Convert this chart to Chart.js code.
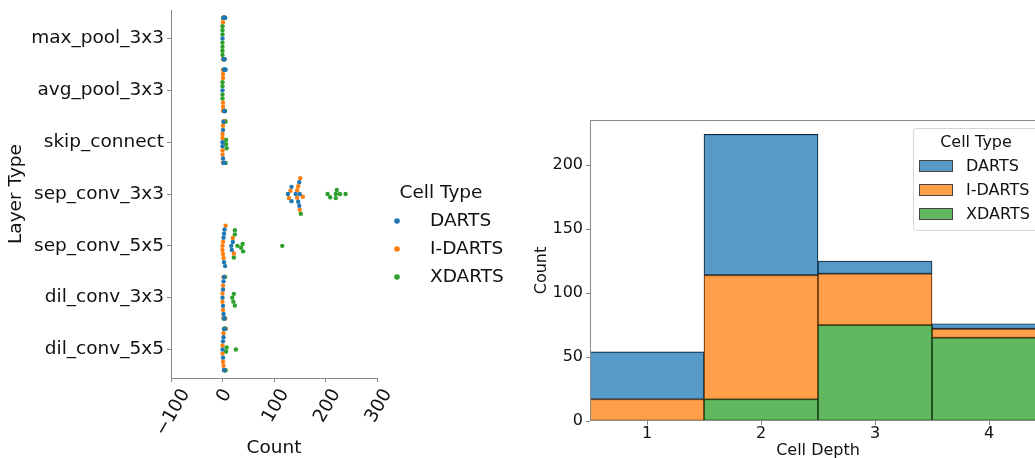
<!DOCTYPE html>
<html>
<head>
<meta charset="utf-8">
<script src="https://cdn.jsdelivr.net/npm/chart.js@4.4.1/dist/chart.umd.min.js"></script>
<style>
  html, body { margin: 0; padding: 0; background: #fff; overflow: hidden; width: 1035px; height: 458px; }
  #left { position: absolute; left: 0; top: 0; }
  #right { position: absolute; left: 520px; top: 0; }
</style>
</head>
<body>
<canvas id="left" width="520" height="458"></canvas>
<canvas id="right" width="540" height="458"></canvas>
<script>
// categories
const layers = ['max_pool_3x3', 'avg_pool_3x3', 'skip_connect', 'sep_conv_3x3', 'sep_conv_5x5', 'dil_conv_3x3', 'dil_conv_5x5'];
const cellTypes = ['DARTS', 'I-DARTS', 'XDARTS'];
const cellColors = ['#1f77b4', '#ff7f0e', '#2ca02c'];

// swarm values: one row per layer type, one value per cell
const dartsCounts = [
  [0, 2, 2, 3, 3, 4, 4, 5],
  [0, 3, 3, 4, 4, 5, 5, 6],
  [0, 0, 1, 1, 2, 2, 3, 4],
  [127, 134, 134, 142, 147, 149, 149, 150],
  [2, 3, 3, 4, 5, 17, 18, 20],
  [0, 1, 1, 2, 2, 3, 3, 4],
  [0, 1, 1, 2, 3, 3, 4, 5]
];
const idartsCounts = [
  [1, 1, 2, 2, 3, 3, 4, 5],
  [1, 1, 1, 1, 1, 1, 2, 3],
  [0, 0, 0, 0, 1, 1, 2, 3],
  [129, 132, 145, 145, 147, 150, 151, 156],
  [0, 0, 1, 1, 2, 6, 20, 22],
  [0, 0, 1, 1, 2, 2, 3, 5],
  [0, 0, 1, 2, 2, 3, 4, 6]
];
const xdartsCounts = [
  [0, 0, 0, 0, 0, 0, 0, 1],
  [0, 0, 0, 0, 2, 3, 4, 5],
  [4, 5, 5, 6, 6, 7, 7, 8],
  [152, 204, 209, 220, 220, 222, 228, 239],
  [22, 24, 24, 29, 36, 39, 40, 116],
  [2, 4, 5, 19, 21, 22, 24, 5],
  [3, 4, 5, 6, 6, 7, 8, 26]
];

// histogram by cell depth
const depthLabels = ['1', '2', '3', '4'];
const dartsDepth = [37, 110, 10, 4];
const idartsDepth = [17, 97, 40, 7];
const xdartsDepth = [0, 17, 75, 65];

const FONT = 'DejaVu Sans';
const INK = '#111';
const SPINE = '#8a8a8a';
Chart.defaults.font.family = FONT;
Chart.defaults.color = INK;

function fade(hex, a) {
  const n = parseInt(hex.slice(1), 16);
  return 'rgba(' + (n >> 16) + ',' + ((n >> 8) & 255) + ',' + (n & 255) + ',' + a + ')';
}

// seaborn-like beeswarm: offsets in pixels, clamped to the gutter
function swarm(chart) {
  const xs = chart.scales.x, ys = chart.scales.y;
  const unit = Math.abs(ys.getPixelForValue(1) - ys.getPixelForValue(0));
  const d = 4.1;
  const half = 0.4 * unit;
  layers.forEach((name, ci) => {
    const pts = [];
    chart.data.datasets.forEach(ds => ds.data.forEach(p => { if (p.cat === ci) pts.push(p); }));
    pts.sort((a, b) => a.x - b.x);
    const placed = [];
    pts.forEach(p => {
      const px = xs.getPixelForValue(p.x);
      const near = placed.filter(q => Math.abs(q.px - px) < d);
      const cands = [0];
      near.forEach(q => {
        const dy = Math.sqrt(d * d - (q.px - px) * (q.px - px));
        cands.push(q.off + dy, q.off - dy);
      });
      cands.sort((a, b) => Math.abs(a) - Math.abs(b));
      const off = cands.find(o => near.every(q => (q.px - px) ** 2 + (q.off - o) ** 2 >= d * d - 1e-6));
      placed.push({ px: px, off: off });
      p.y = ci + Math.max(-half, Math.min(half, off)) / unit;
    });
  });
}

const rotatedTicks = {
  id: 'rotatedTicks',
  afterDraw(chart) {
    const { ctx, scales: { x } } = chart;
    const a = Math.PI / 3, size = 18.5;
    ctx.save();
    ctx.font = size + 'px "' + FONT + '"';
    ctx.fillStyle = INK;
    ctx.textAlign = 'center';
    ctx.textBaseline = 'middle';
    x.ticks.forEach(t => {
      const label = t.value < 0 ? '\u2212' + Math.abs(t.value) : String(t.value);
      const w = ctx.measureText(label).width;
      const H = w * Math.sin(a) + size * Math.cos(a);
      ctx.save();
      ctx.translate(x.getPixelForValue(t.value) + 2, x.top + 8 + H / 2);
      ctx.rotate(-a);
      ctx.fillText(label, 0, 0);
      ctx.restore();
    });
    ctx.restore();
  }
};

const swarmLegend = {
  id: 'swarmLegend',
  afterDraw(chart) {
    const { ctx, chartArea: ca } = chart;
    ctx.save();
    ctx.font = '18.5px "' + FONT + '"';
    ctx.fillStyle = INK;
    ctx.textBaseline = 'middle';
    ctx.textAlign = 'center';
    ctx.fillText('Cell Type', ca.right + 64, 193);
    ctx.textAlign = 'left';
    cellTypes.forEach((name, k) => {
      const y = 221 + k * 28;
      ctx.fillStyle = cellColors[k];
      ctx.beginPath();
      ctx.arc(ca.right + 20, y, 2.8, 0, Math.PI * 2);
      ctx.fill();
      ctx.fillStyle = INK;
      ctx.fillText(name, ca.right + 53, y);
    });
    ctx.restore();
  }
};

const leftChart = new Chart(document.getElementById('left'), {
  type: 'scatter',
  data: {
    datasets: [dartsCounts, idartsCounts, xdartsCounts].map((rows, k) => ({
      label: cellTypes[k],
      data: rows.flatMap((vals, ci) => vals.map(v => ({ x: v, y: ci, cat: ci }))),
      backgroundColor: cellColors[k],
      borderWidth: 0,
      pointRadius: 2.2,
      pointHoverRadius: 2.2
    }))
  },
  options: {
    responsive: false,
    animation: false,
    events: [],
    layout: { padding: { top: 10, right: 143, left: 0, bottom: 0 } },
    plugins: { legend: { display: false }, tooltip: { enabled: false } },
    scales: {
      x: {
        type: 'linear', min: -100, max: 300,
        ticks: { stepSize: 100, display: false },
        grid: { drawOnChartArea: false, tickLength: 4, color: SPINE },
        border: { color: SPINE },
        title: { display: true, text: 'Count', font: { size: 18.5 }, color: INK, padding: { top: 0, bottom: -1 } },
        afterFit: s => { s.height = 80; s.paddingLeft = 0; s.paddingRight = 0; }
      },
      y: {
        type: 'linear', reverse: true, min: -0.55, max: 6.55,
        afterBuildTicks: s => { s.ticks = layers.map((n, i) => ({ value: i })); },
        ticks: { callback: v => layers[v], font: { size: 18.5 }, color: INK, padding: 3 },
        grid: { drawOnChartArea: false, tickLength: 4, color: SPINE },
        border: { color: SPINE },
        title: { display: true, text: 'Layer Type', font: { size: 18.5 }, color: INK, padding: { top: 5, bottom: 0 } },
        afterFit: s => { s.width = 171; s.paddingTop = 0; s.paddingBottom = 0; }
      }
    }
  },
  plugins: [rotatedTicks, swarmLegend]
});
swarm(leftChart);
leftChart.update('none');

const frame = {
  id: 'frame',
  afterDraw(chart) {
    const { ctx, chartArea: ca } = chart;
    ctx.save();
    ctx.strokeStyle = SPINE;
    ctx.lineWidth = 1;
    ctx.strokeRect(ca.left + 0.5, ca.top + 0.5, ca.right - ca.left - 1, ca.bottom - ca.top - 1);
    // legend, upper right
    const lx = ca.right - 133, ly = ca.top + 8, lw = 126, lh = 102;
    ctx.fillStyle = 'rgba(255,255,255,0.85)';
    ctx.strokeStyle = '#d6d6d6';
    ctx.beginPath();
    ctx.roundRect(lx + 0.5, ly + 0.5, lw, lh, 3);
    ctx.fill();
    ctx.stroke();
    ctx.font = '16px "' + FONT + '"';
    ctx.fillStyle = INK;
    ctx.textBaseline = 'middle';
    ctx.textAlign = 'center';
    ctx.fillText('Cell Type', lx + lw / 2, ly + 15);
    ctx.textAlign = 'left';
    cellTypes.forEach((name, k) => {
      const y = ly + 38 + k * 24;
      ctx.fillStyle = fade(cellColors[k], 0.75);
      ctx.fillRect(lx + 6, y - 6, 34, 12);
      ctx.strokeStyle = '#444';
      ctx.strokeRect(lx + 6.5, y - 5.5, 33, 11);
      ctx.fillStyle = INK;
      ctx.fillText(name, lx + 53, y + 1);
    });
    ctx.restore();
  }
};

new Chart(document.getElementById('right'), {
  type: 'bar',
  data: {
    labels: depthLabels,
    datasets: [
      { label: 'XDARTS', data: xdartsDepth, backgroundColor: fade(cellColors[2], 0.75) },
      { label: 'I-DARTS', data: idartsDepth, backgroundColor: fade(cellColors[1], 0.75) },
      { label: 'DARTS', data: dartsDepth, backgroundColor: fade(cellColors[0], 0.75) }
    ].map(ds => Object.assign(ds, {
      borderColor: '#1a1a1a', borderWidth: 0.7, borderSkipped: false,
      barPercentage: 1, categoryPercentage: 1
    }))
  },
  options: {
    responsive: false,
    animation: false,
    events: [],
    layout: { padding: { top: 120, right: 14, left: 0, bottom: 0 } },
    plugins: { legend: { display: false }, tooltip: { enabled: false } },
    scales: {
      x: {
        stacked: true,
        ticks: { font: { size: 16 }, color: INK, padding: -1 },
        grid: { drawOnChartArea: false, offset: false, tickLength: 4, color: SPINE },
        border: { display: false },
        title: { display: true, text: 'Cell Depth', font: { size: 16 }, color: INK, padding: { top: 0, bottom: -2 } },
        afterFit: s => { s.height = 37; }
      },
      y: {
        stacked: true, min: 0, max: 235.2,
        ticks: { stepSize: 50, includeBounds: false, font: { size: 16 }, color: INK, padding: 3 },
        grid: { drawOnChartArea: false, tickLength: 4, color: SPINE },
        border: { display: false },
        title: { display: true, text: 'Count', font: { size: 16 }, color: INK, padding: { top: 12, bottom: 0 } },
        afterFit: s => { s.width = 70; }
      }
    }
  },
  plugins: [frame]
});
</script>
</body>
</html>
